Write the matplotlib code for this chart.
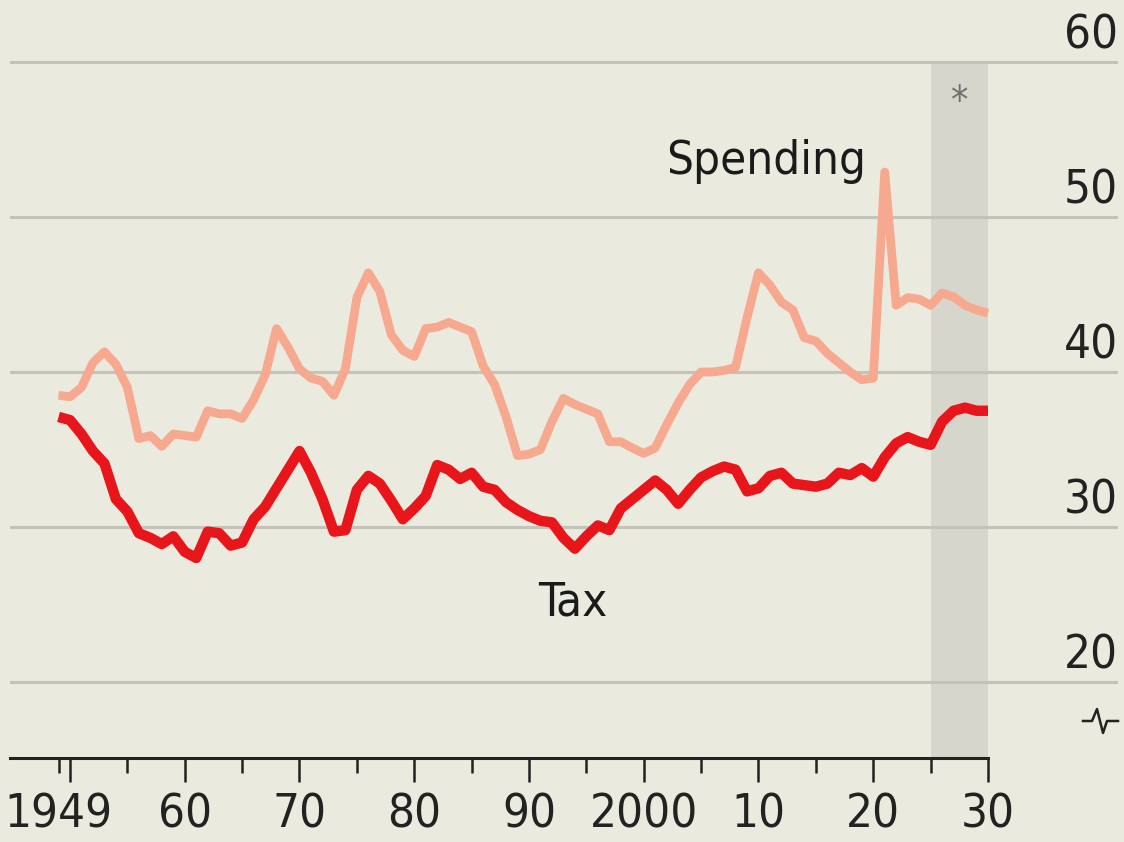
import matplotlib
matplotlib.use('Agg')
import matplotlib.pyplot as plt
from matplotlib import font_manager
import numpy as np

years = list(range(1949, 2031))

spending = [38.5, 38.4, 39.0, 40.6, 41.3, 40.5, 39.0, 35.7, 35.9, 35.2,
            36.0, 35.9, 35.8, 37.5, 37.3, 37.3, 37.0, 38.2, 39.8, 42.8,
            41.6, 40.2, 39.6, 39.4, 38.5, 40.2, 44.8, 46.4, 45.2, 42.4,
            41.4, 41.0, 42.8, 42.9, 43.2, 42.9, 42.6, 40.4, 39.2, 37.1,
            34.6, 34.7, 35.0, 36.8, 38.3, 37.9, 37.6, 37.3, 35.5, 35.5,
            35.1, 34.75, 35.1, 36.6, 38.0, 39.2, 40.0, 40.0, 40.1, 40.3,
            43.5, 46.4, 45.6, 44.5, 44.0, 42.2, 42.0, 41.2, 40.6, 40.0,
            39.5, 39.6, 52.9, 44.3, 44.8, 44.7, 44.3, 45.1, 44.85, 44.3,
            44.0, 43.8]

tax = [37.1, 36.9, 36.0, 34.9, 34.1, 31.8, 31.0, 29.6, 29.3, 28.9,
       29.4, 28.4, 28.0, 29.7, 29.6, 28.8, 29.0, 30.5, 31.3, 32.5,
       33.7, 34.9, 33.5, 31.8, 29.7, 29.8, 32.4, 33.3, 32.8, 31.7,
       30.5, 31.2, 32.0, 34.0, 33.7, 33.1, 33.5, 32.6, 32.4, 31.6,
       31.1, 30.7, 30.4, 30.3, 29.3, 28.6, 29.4, 30.1, 29.8, 31.2,
       31.8, 32.4, 33.0, 32.4, 31.5, 32.4, 33.2, 33.6, 33.9, 33.7,
       32.3, 32.5, 33.3, 33.5, 32.8, 32.7, 32.6, 32.8, 33.5, 33.35,
       33.8, 33.25, 34.5, 35.4, 35.8, 35.5, 35.3, 36.8, 37.5, 37.7,
       37.5, 37.5]

y_ticks = [20, 30, 40, 50, 60]
x_major = list(range(1950, 2031, 10))
x_labels = ['', '60', '70', '80', '90', '2000', '10', '20', '30']
x_minor = [1949] + list(range(1955, 2030, 10))
forecast = (2025, 2030)

bg = '#EBEADF'

# pick a condensed face if one is installed
fonts = font_manager.fontManager.ttflist
names = {f.name for f in fonts}
condensed = [f for f in fonts if f.name == 'DejaVu Sans' and 'ondensed' in f.fname]
if 'Liberation Sans Narrow' in names:
    plt.rcParams['font.family'] = ['Liberation Sans Narrow', 'DejaVu Sans']
    fs = 37
elif condensed:
    plt.rcParams['font.family'] = ['DejaVu Sans']
    plt.rcParams['font.stretch'] = 'condensed'
    fs = 34
else:
    plt.rcParams['font.family'] = ['Liberation Sans', 'DejaVu Sans']
    fs = 32

fig = plt.figure(figsize=(11.24, 8.42), dpi=100, facecolor=bg)
ax = fig.add_axes([10/1124, 84/842, 1108/1124, 758/842])
ax.set_facecolor(bg)

x_lo = 1950 - 60/11.475
x_hi = 1950 + 1048/11.475
y_lo = 60 - 696/15.5
y_hi = 60 + 62/15.5
ax.set_xlim(x_lo, x_hi)
ax.set_ylim(y_lo, y_hi)

# forecast shading
ax.fill_between(forecast, y_lo, 60, color='#D6D6CD', lw=0, zorder=1)

for v in y_ticks:
    ax.axhline(v, color='#C3C3B9', lw=2.2, zorder=2)
    ax.text(1.0, v + 0.9, str(v), transform=ax.get_yaxis_transform(),
            ha='right', va='baseline', fontsize=fs, color='#222222')

ax.plot(years, spending, color='#F6A98F', lw=6.3, solid_joinstyle='round',
        solid_capstyle='butt', zorder=3)
ax.plot(years, tax, color='#E8161B', lw=7.5, solid_joinstyle='round',
        solid_capstyle='butt', zorder=4)

ax.text(2010.7, 53.6, 'Spending', ha='center', va='center', fontsize=fs,
        color='#1a1a1a')
ax.text(1993.8, 25.1, 'Tax', ha='center', va='center', fontsize=fs,
        color='#1a1a1a')
ax.text(2027.5, 57.4, '*', ha='center', va='center', fontsize=28,
        color='#707070')

for s in ['top', 'left', 'right']:
    ax.spines[s].set_visible(False)
ax.spines['bottom'].set_color('#222222')
ax.spines['bottom'].set_linewidth(2.2)
ax.spines['bottom'].set_bounds(x_lo, 2030)
ax.spines['bottom'].set_zorder(5)

tick_len = 17
tick_pad = 8
ax.set_yticks([])
ax.set_xticks(x_major)
ax.set_xticklabels(x_labels)
ax.set_xticks(x_minor, minor=True)
ax.tick_params(axis='x', which='major', length=tick_len, width=1.8,
               color='#222222', labelsize=fs, pad=tick_pad, labelcolor='#222222')
ax.tick_params(axis='x', which='minor', length=11, width=1.8,
               color='#222222')
off = (tick_len + tick_pad) * 100 / 72 / 758
ax.text(1949, -off, '1949', transform=ax.get_xaxis_transform(),
        ha='center', va='top', fontsize=fs, color='#222222')

# axis break symbol
bx = np.array([1083, 1092, 1097, 1103, 1107, 1118]) / 1124
by = 1 - np.array([721, 721, 709, 733, 721, 721]) / 842
fig.lines.append(plt.Line2D(bx, by, transform=fig.transFigure,
                            color='#222222', lw=1.8))

fig.savefig('out.png', dpi=100, facecolor=bg)
